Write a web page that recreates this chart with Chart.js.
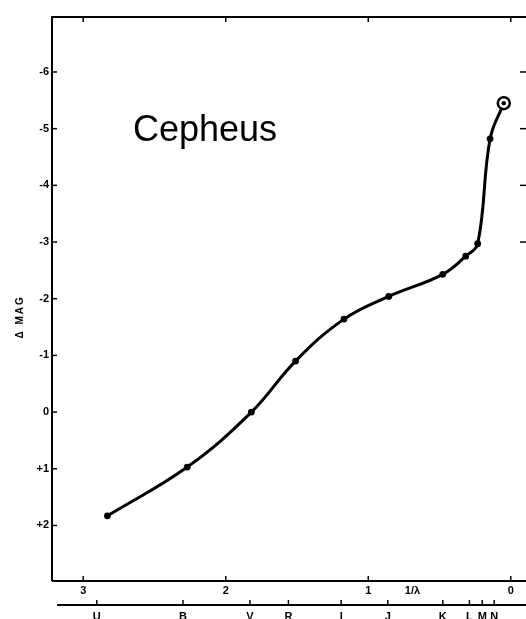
<!DOCTYPE html>
<html>
<head>
<meta charset="utf-8">
<script src="https://cdn.jsdelivr.net/npm/chart.js@4/dist/chart.umd.min.js"></script>
<style>
html,body{margin:0;padding:0;background:#fff;overflow:hidden;width:526px;height:619px;}
#wrap{position:absolute;left:0;top:0;width:540px;height:619px;}
</style>
</head>
<body>
<div id="wrap"><canvas id="c" width="540" height="619"></canvas></div>
<script>
// ---- data ----
const title = 'Cepheus';
const bandNames = ['U','B','V','R','I','J','K','L','M','N'];
const bandPositions = [2.905,2.30,1.83,1.56,1.19,0.863,0.477,0.29,0.200,0.116];
const invWavelength = [2.83,2.27,1.82,1.51,1.17,0.856,0.477,0.316,0.232,0.145,0.049];
const deltaMag = [1.83,0.97,0.0,-0.90,-1.64,-2.04,-2.43,-2.75,-2.97,-4.82,-5.45];
const xTickValues = [3,2,1,0];
const xTickLabels = ['3','2','1','0'];
const yTickValues = [-6,-5,-4,-3,-2,-1,0,1,2];
const yTickLabels = ['-6','-5','-4','-3','-2','-1','0','+1','+2'];
const rightTickValues = [-6,-5,-4,-3];
const xAxisTitle = '1/λ';
const yAxisTitle = 'Δ MAG';

const points = invWavelength.map((x,i)=>({x:x,y:deltaMag[i]}));
const last = points.length-1;

const axesPlugin = {
  id:'axesPlugin',
  afterDraw(chart){
    const ctx = chart.ctx, a = chart.chartArea;
    const xs = chart.scales.x, ys = chart.scales.y;
    ctx.save();
    ctx.strokeStyle = '#000';
    ctx.fillStyle = '#000';
    ctx.lineWidth = 2;
    ctx.lineCap = 'butt';
    // frame
    ctx.beginPath();
    ctx.moveTo(a.left, a.bottom); ctx.lineTo(a.left, a.top); ctx.lineTo(a.right, a.top);
    ctx.lineTo(a.right, a.bottom); ctx.lineTo(a.left, a.bottom);
    ctx.stroke();
    ctx.lineWidth = 1.5;
    // left ticks + labels
    ctx.font = 'bold 11px "Liberation Sans", Arial, sans-serif';
    ctx.textAlign = 'right'; ctx.textBaseline = 'middle';
    yTickValues.forEach((v,i)=>{
      const y = ys.getPixelForValue(v);
      ctx.beginPath(); ctx.moveTo(a.left, y); ctx.lineTo(a.left+5, y); ctx.stroke();
      ctx.fillText(yTickLabels[i], a.left-3, y);
    });
    // right ticks
    rightTickValues.forEach(v=>{
      const y = ys.getPixelForValue(v);
      ctx.beginPath(); ctx.moveTo(a.right, y); ctx.lineTo(a.right-9, y); ctx.stroke();
    });
    // top & bottom ticks
    ctx.textAlign = 'center'; ctx.textBaseline = 'middle';
    xTickValues.forEach((v,i)=>{
      const x = xs.getPixelForValue(v);
      ctx.beginPath(); ctx.moveTo(x, a.top); ctx.lineTo(x, a.top+5); ctx.stroke();
      ctx.beginPath(); ctx.moveTo(x, a.bottom); ctx.lineTo(x, a.bottom-5); ctx.stroke();
      ctx.fillText(xTickLabels[i], x, a.bottom+10);
    });
    ctx.fillText(xAxisTitle, xs.getPixelForValue(0.69), a.bottom+10);
    // band axis
    const by = a.bottom + 24;
    ctx.lineWidth = 2;
    ctx.beginPath(); ctx.moveTo(a.left+5, by); ctx.lineTo(a.right+10, by); ctx.stroke();
    ctx.lineWidth = 1.5;
    ctx.textBaseline = 'top';
    bandPositions.forEach((v,i)=>{
      const x = xs.getPixelForValue(v);
      ctx.beginPath(); ctx.moveTo(x, by); ctx.lineTo(x, by-5); ctx.stroke();
      ctx.fillText(bandNames[i], x, by+6);
    });
    // y axis title
    ctx.save();
    ctx.translate(20, ys.getPixelForValue(-1.68));
    ctx.rotate(-Math.PI/2);
    ctx.font = 'bold 10px "Liberation Sans", Arial, sans-serif';
    ctx.letterSpacing = '2px';
    ctx.textAlign = 'center'; ctx.textBaseline = 'middle';
    ctx.fillText(yAxisTitle, 0, 0);
    ctx.restore();
    // title
    ctx.font = '36px "Liberation Sans", Arial, sans-serif';
    ctx.textAlign = 'left'; ctx.textBaseline = 'alphabetic';
    ctx.fillText(title, 133, 141);
    ctx.restore();
  }
};

new Chart(document.getElementById('c'), {
  type:'scatter',
  data:{
    datasets:[
      {
        data: points,
        order:1,
        showLine:true,
        borderColor:'#000',
        borderWidth:3,
        tension:0.4,
        pointRadius: points.map((p,i)=> i===last ? 6 : 3.4),
        pointBackgroundColor: points.map((p,i)=> i===last ? '#fff' : '#000'),
        pointBorderColor:'#000',
        pointBorderWidth: points.map((p,i)=> i===last ? 2.5 : 0),
        clip:false
      },
      {
        data:[points[last]],
        order:0,
        showLine:false,
        pointRadius:2.2,
        pointBackgroundColor:'#000',
        pointBorderWidth:0
      }
    ]
  },
  options:{
    responsive:false,
    animation:false,
    devicePixelRatio:1,
    layout:{padding:{left:52,top:17,right:11,bottom:38}},
    plugins:{legend:{display:false},tooltip:{enabled:false}},
    scales:{
      x:{type:'linear',display:false,reverse:true,min:-0.128,max:3.219},
      y:{type:'linear',display:false,reverse:true,min:-6.97,max:2.98}
    }
  },
  plugins:[axesPlugin]
});
</script>
</body>
</html>
